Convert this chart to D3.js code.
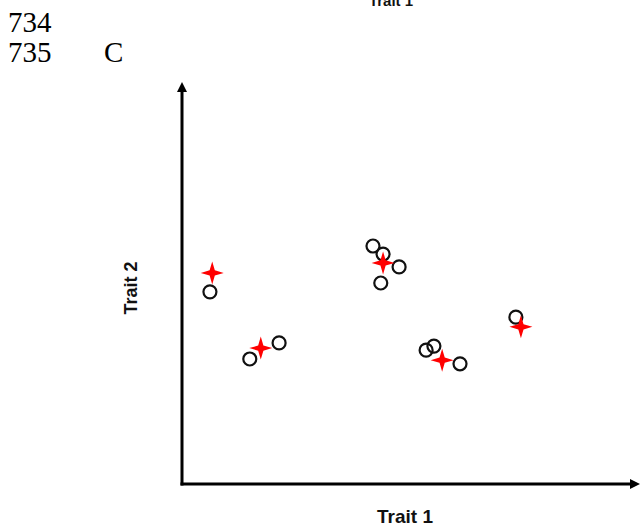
<!DOCTYPE html>
<html>
<head>
<meta charset="utf-8">
<script src="https://cdn.jsdelivr.net/npm/d3@7"></script>
<style>
  html, body { margin: 0; padding: 0; background: #fff; }
  svg { display: block; }
</style>
</head>
<body>
<script>
// Observed individuals (open circles), in trait units
const circleTrait1 = [0.61, 1.48, 2.12, 4.17, 4.39, 4.74, 4.34, 5.33, 5.50, 6.07, 7.29];
const circleTrait2 = [4.78, 3.11, 3.51, 5.92, 5.72, 5.40, 5.00, 3.33, 3.43, 2.99, 4.15];

// Group centres (red stars), in trait units
const starTrait1 = [0.66, 1.72, 4.39, 5.68, 7.40];
const starTrait2 = [5.25, 3.38, 5.50, 3.08, 3.91];

const xLabel = "Trait 1";
const yLabel = "Trait 2";
const lineNumbers = ["734", "735"];
const panelLetter = "C";

const W = 641, H = 527;
const svg = d3.select("body").append("svg").attr("width", W).attr("height", H);

const x = d3.scaleLinear().domain([0, 10]).range([182, 640]);
const y = d3.scaleLinear().domain([0, 10]).range([484, 82]);

const serif = "Liberation Serif, Times New Roman, serif";
const sans = "Liberation Sans, Arial, sans-serif";

// Line-numbered manuscript margin and panel letter
svg.append("text").attr("x", 8).attr("y", 32)
  .attr("font-family", serif).attr("font-size", 29).text(lineNumbers[0]);
svg.append("text").attr("x", 8).attr("y", 62)
  .attr("font-family", serif).attr("font-size", 29).text(lineNumbers[1]);
svg.append("text").attr("x", 104).attr("y", 62)
  .attr("font-family", serif).attr("font-size", 29).text(panelLetter);

// Axis title of the panel above, clipped at the top edge
svg.append("text").attr("x", 391).attr("y", 6).attr("text-anchor", "middle")
  .attr("font-family", sans).attr("font-weight", "bold")
  .attr("font-size", 15).attr("fill", "#111").text(xLabel);

// Axes with arrowheads
const axisColor = "#000";
svg.append("line").attr("x1", x(0)).attr("y1", y(0) + 1.5).attr("x2", x(0)).attr("y2", y(10) + 8)
  .attr("stroke", axisColor).attr("stroke-width", 3);
svg.append("line").attr("x1", x(0) - 1.5).attr("y1", y(0)).attr("x2", x(10) - 8).attr("y2", y(0))
  .attr("stroke", axisColor).attr("stroke-width", 3);
svg.append("path")
  .attr("d", d3.line()([[x(0), y(10)], [x(0) - 5, y(10) + 10], [x(0) + 5, y(10) + 10]]) + "Z")
  .attr("fill", axisColor);
svg.append("path")
  .attr("d", d3.line()([[x(10), y(0)], [x(10) - 10, y(0) - 5], [x(10) - 10, y(0) + 5]]) + "Z")
  .attr("fill", axisColor);

// Axis labels
svg.append("text").attr("x", 405).attr("y", 523).attr("text-anchor", "middle")
  .attr("font-family", sans).attr("font-weight", "bold")
  .attr("font-size", 19).attr("fill", "#111").text(xLabel);
svg.append("text")
  .attr("transform", "translate(137,288) rotate(-90)")
  .attr("text-anchor", "middle")
  .attr("font-family", sans).attr("font-weight", "bold")
  .attr("font-size", 18).attr("fill", "#111").text(yLabel);

// Four-pointed star symbol
const star4 = {
  draw(ctx, size) {
    const R = Math.sqrt(size) / 2, r = R * 0.32;
    for (let i = 0; i < 8; i++) {
      const a = i * Math.PI / 4 - Math.PI / 2;
      const rad = i % 2 === 0 ? R : r;
      const px = rad * Math.cos(a), py = rad * Math.sin(a);
      if (i === 0) ctx.moveTo(px, py); else ctx.lineTo(px, py);
    }
    ctx.closePath();
  }
};

// Individuals
const circles = circleTrait1.map((v, i) => ({ t1: v, t2: circleTrait2[i] }));
svg.append("g").selectAll("circle").data(circles).join("circle")
  .attr("cx", d => x(d.t1)).attr("cy", d => y(d.t2)).attr("r", 6.5)
  .attr("fill", "none").attr("stroke", "#111").attr("stroke-width", 2.2);

// Centres
const stars = starTrait1.map((v, i) => ({ t1: v, t2: starTrait2[i] }));
svg.append("g").selectAll("path").data(stars).join("path")
  .attr("transform", d => `translate(${x(d.t1)},${y(d.t2)})`)
  .attr("d", d3.symbol().type(star4).size(23 * 23))
  .attr("fill", "#ff0000");
</script>
</body>
</html>
